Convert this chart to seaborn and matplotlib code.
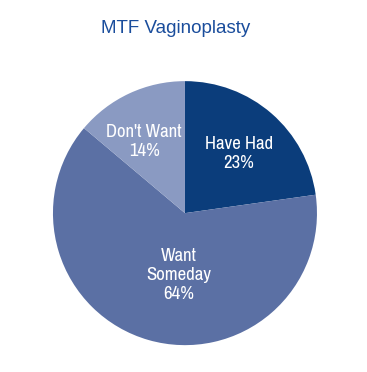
import matplotlib
matplotlib.use("Agg")
import matplotlib.pyplot as plt
import seaborn as sns

sns.set_style("white")

title = "MTF Vaginoplasty"
categories = ["Have Had", "Want\nSomeday", "Don't Want"]
values = [23, 64, 14]
pct_labels = ["23%", "64%", "14%"]
colors = ["#0b3d7b", "#5b70a4", "#8a9ac2"]

plt.rcParams['font.family'] = ['DejaVu Sans']

fig = plt.figure(figsize=(3.67, 3.72), dpi=100)
ax = fig.add_axes([0.504 - 0.3597, 0.427 - 0.3548, 0.7194, 0.7097])
wedges, _ = ax.pie(values, colors=colors, startangle=90, counterclock=False,
                   wedgeprops=dict(linewidth=0))
ax.set_xlim(-1, 1)
ax.set_ylim(-1, 1)
ax.set_aspect("equal")

label_pos = [(0.41, 0.45), (-0.045, -0.47), (-0.31, 0.54)]
for (x, y), c, p in zip(label_pos, categories, pct_labels):
    ax.text(x, y, f"{c}\n{p}", ha="center", va="center", color="white",
            fontsize=13.5, linespacing=1.25,
            family=["Archivo Narrow", "DejaVu Sans"])

fig.text(0.478, 0.924, title, ha="center", va="center", color="#1a4d9c",
         fontsize=13.5, family=["Liberation Sans", "DejaVu Sans"])

fig.savefig("out.png", dpi=100)
